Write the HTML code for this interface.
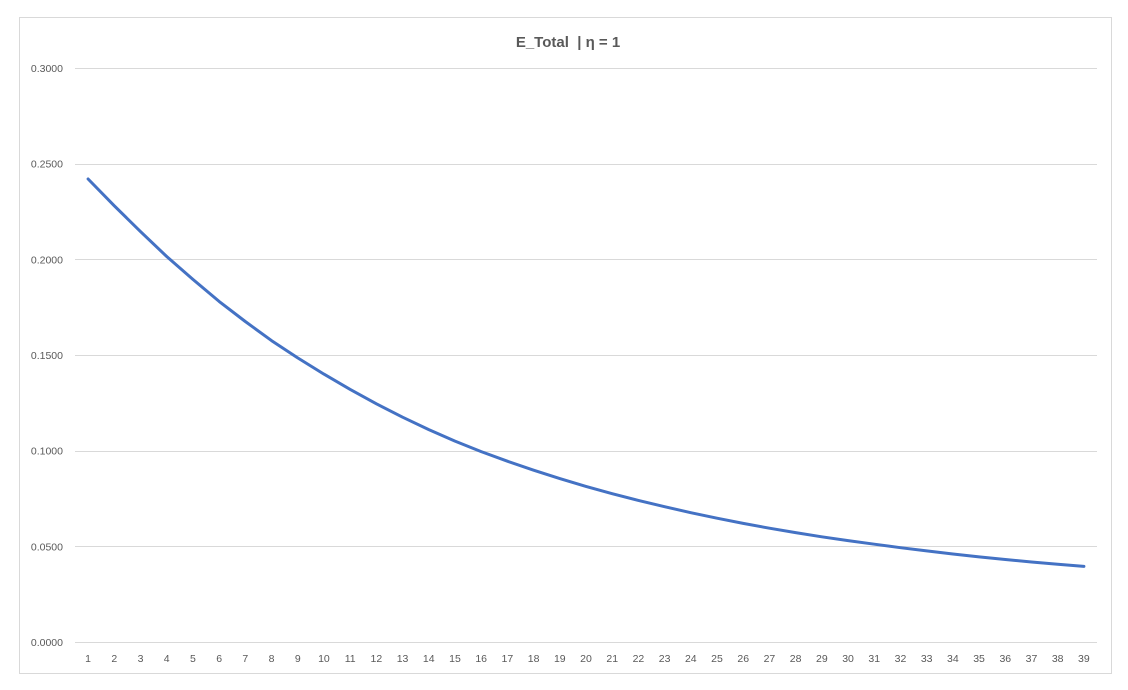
<!DOCTYPE html>
<html><head><meta charset="utf-8"><style>
body{margin:0;background:#fff;}
svg{display:block;font-family:"Liberation Sans",sans-serif;}
</style></head><body>
<svg width="1128" height="690">
<rect x="19.5" y="17.5" width="1092" height="656" fill="#fff" stroke="#d9d9d9"/>
<text x="568" y="47" text-anchor="middle" font-size="15" font-weight="bold" fill="#595959" style="white-space:pre" xml:space="preserve">E_Total  | η = 1</text>
<g id="grid"></g><g id="ylab"></g><g id="xlab"></g>
<path id="line" fill="none" stroke="#4472c4" stroke-width="3" stroke-linejoin="round" stroke-linecap="round"/>
</svg>
<script>
const categories=[];for(let i=1;i<=39;i++)categories.push(i);
const values=[0.242,0.228,0.2145,0.2015,0.1895,0.178,0.1675,0.1575,0.1485,0.140,0.132,0.1245,0.1175,0.111,0.105,0.0995,0.0945,0.0898,0.0854,0.0813,0.0775,0.074,0.0707,0.0676,0.0647,0.062,0.0595,0.0572,0.055,0.053,0.0511,0.0493,0.0476,0.046,0.0445,0.0431,0.0418,0.0406,0.0395];
const yTicks=[0,0.05,0.1,0.15,0.2,0.25,0.3];
const L=75,R=1097,T=68,B=642;
const bw=(R-L)/categories.length;
const x=i=>L+bw*(i+0.5);
const y=v=>B-(v/0.3)*(B-T);
const ns="http://www.w3.org/2000/svg";
const g=document.getElementById('grid'),yl=document.getElementById('ylab'),xl=document.getElementById('xlab');
yTicks.forEach(t=>{
const l=document.createElementNS(ns,'line');
l.setAttribute('x1',L);l.setAttribute('x2',R);l.setAttribute('y1',Math.round(y(t))+0.5);l.setAttribute('y2',Math.round(y(t))+0.5);
l.setAttribute('stroke','#d9d9d9');


g.appendChild(l);
const tx=document.createElementNS(ns,'text');
tx.setAttribute('x',63);tx.setAttribute('y',y(t)+4);tx.setAttribute('text-anchor','end');tx.setAttribute('font-size','10.5');tx.setAttribute('fill','#595959');
tx.textContent=t.toFixed(4);


yl.appendChild(tx);
});
categories.forEach((c,i)=>{
const tx=document.createElementNS(ns,'text');
tx.setAttribute('x',x(i));tx.setAttribute('y',662);tx.setAttribute('text-anchor','middle');tx.setAttribute('font-size','10.5');tx.setAttribute('fill','#595959');
tx.textContent=c;


xl.appendChild(tx);
});
document.getElementById('line').setAttribute('d',values.map((v,i)=>(i?'L':'M')+x(i).toFixed(1)+','+y(v).toFixed(1)).join(''));
</script>
</body></html>
